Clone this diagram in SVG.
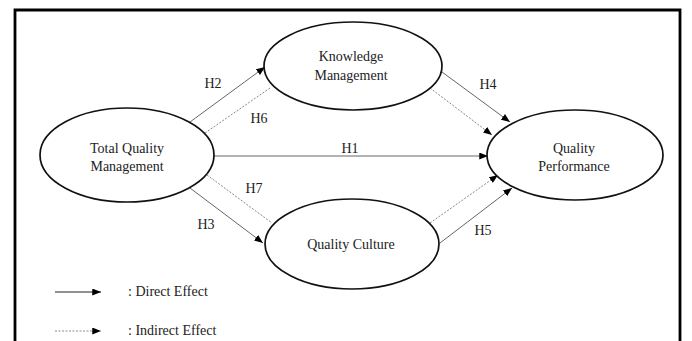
<svg xmlns="http://www.w3.org/2000/svg" width="692" height="341" viewBox="0 0 692 341">
<defs>
<marker id="ah" viewBox="0 0 10 8" refX="10" refY="4" markerWidth="9" markerHeight="7" markerUnits="userSpaceOnUse" orient="auto">
<path d="M0,0 L10,4 L0,8 Z" fill="#000"/>
</marker>
</defs>
<style>
text{font-family:"Liberation Serif","Times New Roman",serif;font-size:14px;fill:#222;text-anchor:middle}
.node ellipse{fill:#fff;stroke:#111;stroke-width:1.7}
.d{stroke:#666;stroke-width:1;fill:none}
.i{stroke:#888;stroke-width:1;fill:none;stroke-dasharray:2 1.5}
.lg{text-anchor:start}
</style>
<rect width="692" height="341" fill="#fff"/>
<path d="M15,341 V10 H680 V341" fill="none" stroke="#000" stroke-width="2.8"/>
<g id="connectors">
<line class="d" x1="190" y1="122" x2="265" y2="67" marker-end="url(#ah)"/>
<line class="i" x1="205" y1="133" x2="270" y2="88"/>
<line class="d" x1="213" y1="156" x2="488" y2="156" marker-end="url(#ah)"/>
<line class="d" x1="442" y1="72" x2="510" y2="122" marker-end="url(#ah)"/>
<line class="i" x1="430" y1="88" x2="492" y2="135" marker-end="url(#ah)"/>
<line class="d" x1="190" y1="188" x2="263" y2="243" marker-end="url(#ah)"/>
<line class="i" x1="207" y1="175" x2="272" y2="223"/>
<line class="i" x1="430" y1="223" x2="498" y2="175" marker-end="url(#ah)"/>
<line class="d" x1="440" y1="243" x2="512" y2="188" marker-end="url(#ah)"/>
<text x="213" y="88">H2</text>
<text x="259" y="123">H6</text>
<text x="350" y="153">H1</text>
<text x="488" y="89">H4</text>
<text x="254" y="193">H7</text>
<text x="206" y="229">H3</text>
<text x="483" y="235">H5</text>
</g>
<g id="km" class="node">
<ellipse cx="353" cy="66" rx="89" ry="44"/>
<text x="351" y="61">Knowledge</text>
<text x="351" y="80">Management</text>
</g>
<g id="tqm" class="node">
<ellipse cx="127" cy="155" rx="87" ry="47"/>
<text x="127" y="153">Total Quality</text>
<text x="127" y="171">Management</text>
</g>
<g id="qp" class="node">
<ellipse cx="575" cy="155" rx="88" ry="45"/>
<text x="574" y="153">Quality</text>
<text x="574" y="171">Performance</text>
</g>
<g id="qc" class="node">
<ellipse cx="352" cy="244" rx="87" ry="45"/>
<text x="351" y="249">Quality Culture</text>
</g>
<g id="legend">
<line x1="55" y1="292" x2="101" y2="292" stroke="#222" stroke-width="1" marker-end="url(#ah)"/>
<line class="i" x1="55" y1="331" x2="101" y2="331" marker-end="url(#ah)"/>
<text class="lg" x="128" y="296">: Direct Effect</text>
<text class="lg" x="128" y="335">: Indirect Effect</text>
</g>
</svg>
